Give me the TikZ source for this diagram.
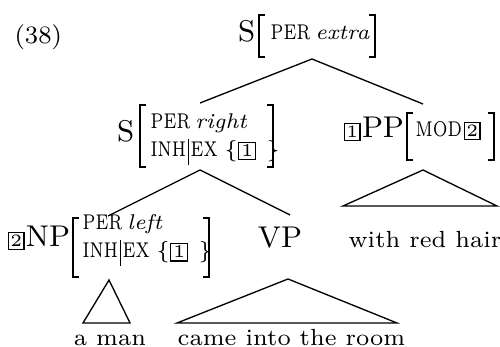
\documentclass[tikz,border=0pt]{standalone}
\usepackage{graphicx}
\newcommand{\bxa}[1]{{\setlength{\fboxsep}{0.6pt}\setlength{\fboxrule}{0.45pt}\fbox{\makebox[3.0pt]{\fontsize{5.2}{5.2}\selectfont #1}}}}
\newcommand{\bxb}[1]{{\setlength{\fboxsep}{0.6pt}\setlength{\fboxrule}{0.45pt}\fbox{\makebox[3.4pt]{\fontsize{5.4}{5.4}\selectfont #1}}}}
\newcommand{\mf}{\fontsize{7}{8}\selectfont}
\newcommand{\cf}{\fontsize{9}{10}\selectfont}
\newcommand{\ff}{\fontsize{6.4}{7}\selectfont}
\newcommand{\fc}[1]{\scalebox{0.74}[1]{\fontsize{6.4}{6.5}\selectfont #1}}
\newcommand{\fv}[1]{{\fontsize{6.4}{7}\selectfont\itshape #1}}
\newcommand{\vbar}{\hspace{0.5pt}\rule[-2.4pt]{0.4pt}{7.8pt}\hspace{0.5pt}}
\begin{document}
\begin{tikzpicture}[x=0.3pt,y=-0.3pt,
  cat/.style={inner sep=0pt,font=\cf},
  leaf/.style={inner sep=0pt,font=\mf},
  feat/.style={inner sep=0pt,font=\ff},
  brk/.style={line width=0.7pt},
  edge/.style={line width=0.4pt}]
\useasboundingbox (0,0) rectangle (500,347);
% example number
\node[leaf,anchor=base west,font=\fontsize{7.5}{8}\selectfont] (ex) at (14,44) {(38)};
% top S
\node[cat,anchor=base east] (s0) at (256,42) {S};
\node[feat,anchor=base west] (f0) at (270,40) {\fc{PER}\hspace{1.5pt}\fv{extra}};
\draw[brk] (265,15) -- (259,15) -- (259,57) -- (265,57);
\draw[brk] (369,15) -- (375,15) -- (375,57) -- (369,57);
\coordinate (s0b) at (312,59);
% middle S
\node[cat,anchor=base east] (s1) at (135,142) {S};
\node[feat,anchor=base west] (f1a) at (150,129) {\fc{PER}\hspace{1.5pt}\fv{right}};
\node[feat,anchor=base west] (f1b) at (150,157) {\fc{INH}\vbar\fc{EX}\hspace{2pt}\{\bxb{1}\hspace{3pt}\}};
\draw[brk] (146,105) -- (140,105) -- (140,167) -- (146,167);
\draw[brk] (267,105) -- (273,105) -- (273,167) -- (267,167);
\coordinate (s1t) at (200,103);
\coordinate (s1b) at (200,170);
% PP
\node[cat,anchor=base west] (pp) at (343,138) {\bxa{1}\hspace{0.4pt}PP};
\node[feat,anchor=base west] (f2) at (415,137) {\fc{MOD}\hspace{0.5pt}\bxa{2}};
\draw[brk] (413,113) -- (407,113) -- (407,160) -- (413,160);
\draw[brk] (488,113) -- (494,113) -- (494,160) -- (488,160);
\coordinate (ppt) at (423,104);
\coordinate (ppb) at (423,170);
\coordinate (ppl) at (343,206);
\coordinate (ppr) at (497,206);
\node[leaf,anchor=base west] (wrh) at (348,248) {with red hair};
% NP
\node[cat,anchor=base west] (np) at (7,247) {\bxa{2}\hspace{0.4pt}NP};
\node[feat,anchor=base west] (f3a) at (82,230) {\fc{PER}\hspace{1.5pt}\fv{left}};
\node[feat,anchor=base west] (f3b) at (82,258) {\fc{INH}\vbar\fc{EX}\hspace{2pt}\{\bxb{1}\hspace{3pt}\}};
\draw[brk] (79,218) -- (73,218) -- (73,277) -- (79,277);
\draw[brk] (203,218) -- (209,218) -- (209,277) -- (203,277);
\coordinate (npt) at (108,216);
\coordinate (npb) at (109,280);
\coordinate (npl) at (83,323);
\coordinate (npr) at (130,323);
\node[leaf,anchor=base] (am) at (110,345) {a man};
% VP
\node[cat,anchor=base] (vp) at (280,248) {VP};
\coordinate (vpt) at (290,215);
\coordinate (vpb) at (288,279);
\coordinate (vpl) at (177,323);
\coordinate (vpr) at (397,323);
\node[leaf,anchor=base west] (citr) at (177,345) {came into the room};
% edges
\draw[edge] (s1t) -- (s0b) -- (ppt);
\draw[edge] (npt) -- (s1b) -- (vpt);
\draw[edge] (ppb) -- (ppl) -- (ppr) -- cycle;
\draw[edge] (npb) -- (npl) -- (npr) -- cycle;
\draw[edge] (vpb) -- (vpl) -- (vpr) -- cycle;
\end{tikzpicture}
\end{document}
